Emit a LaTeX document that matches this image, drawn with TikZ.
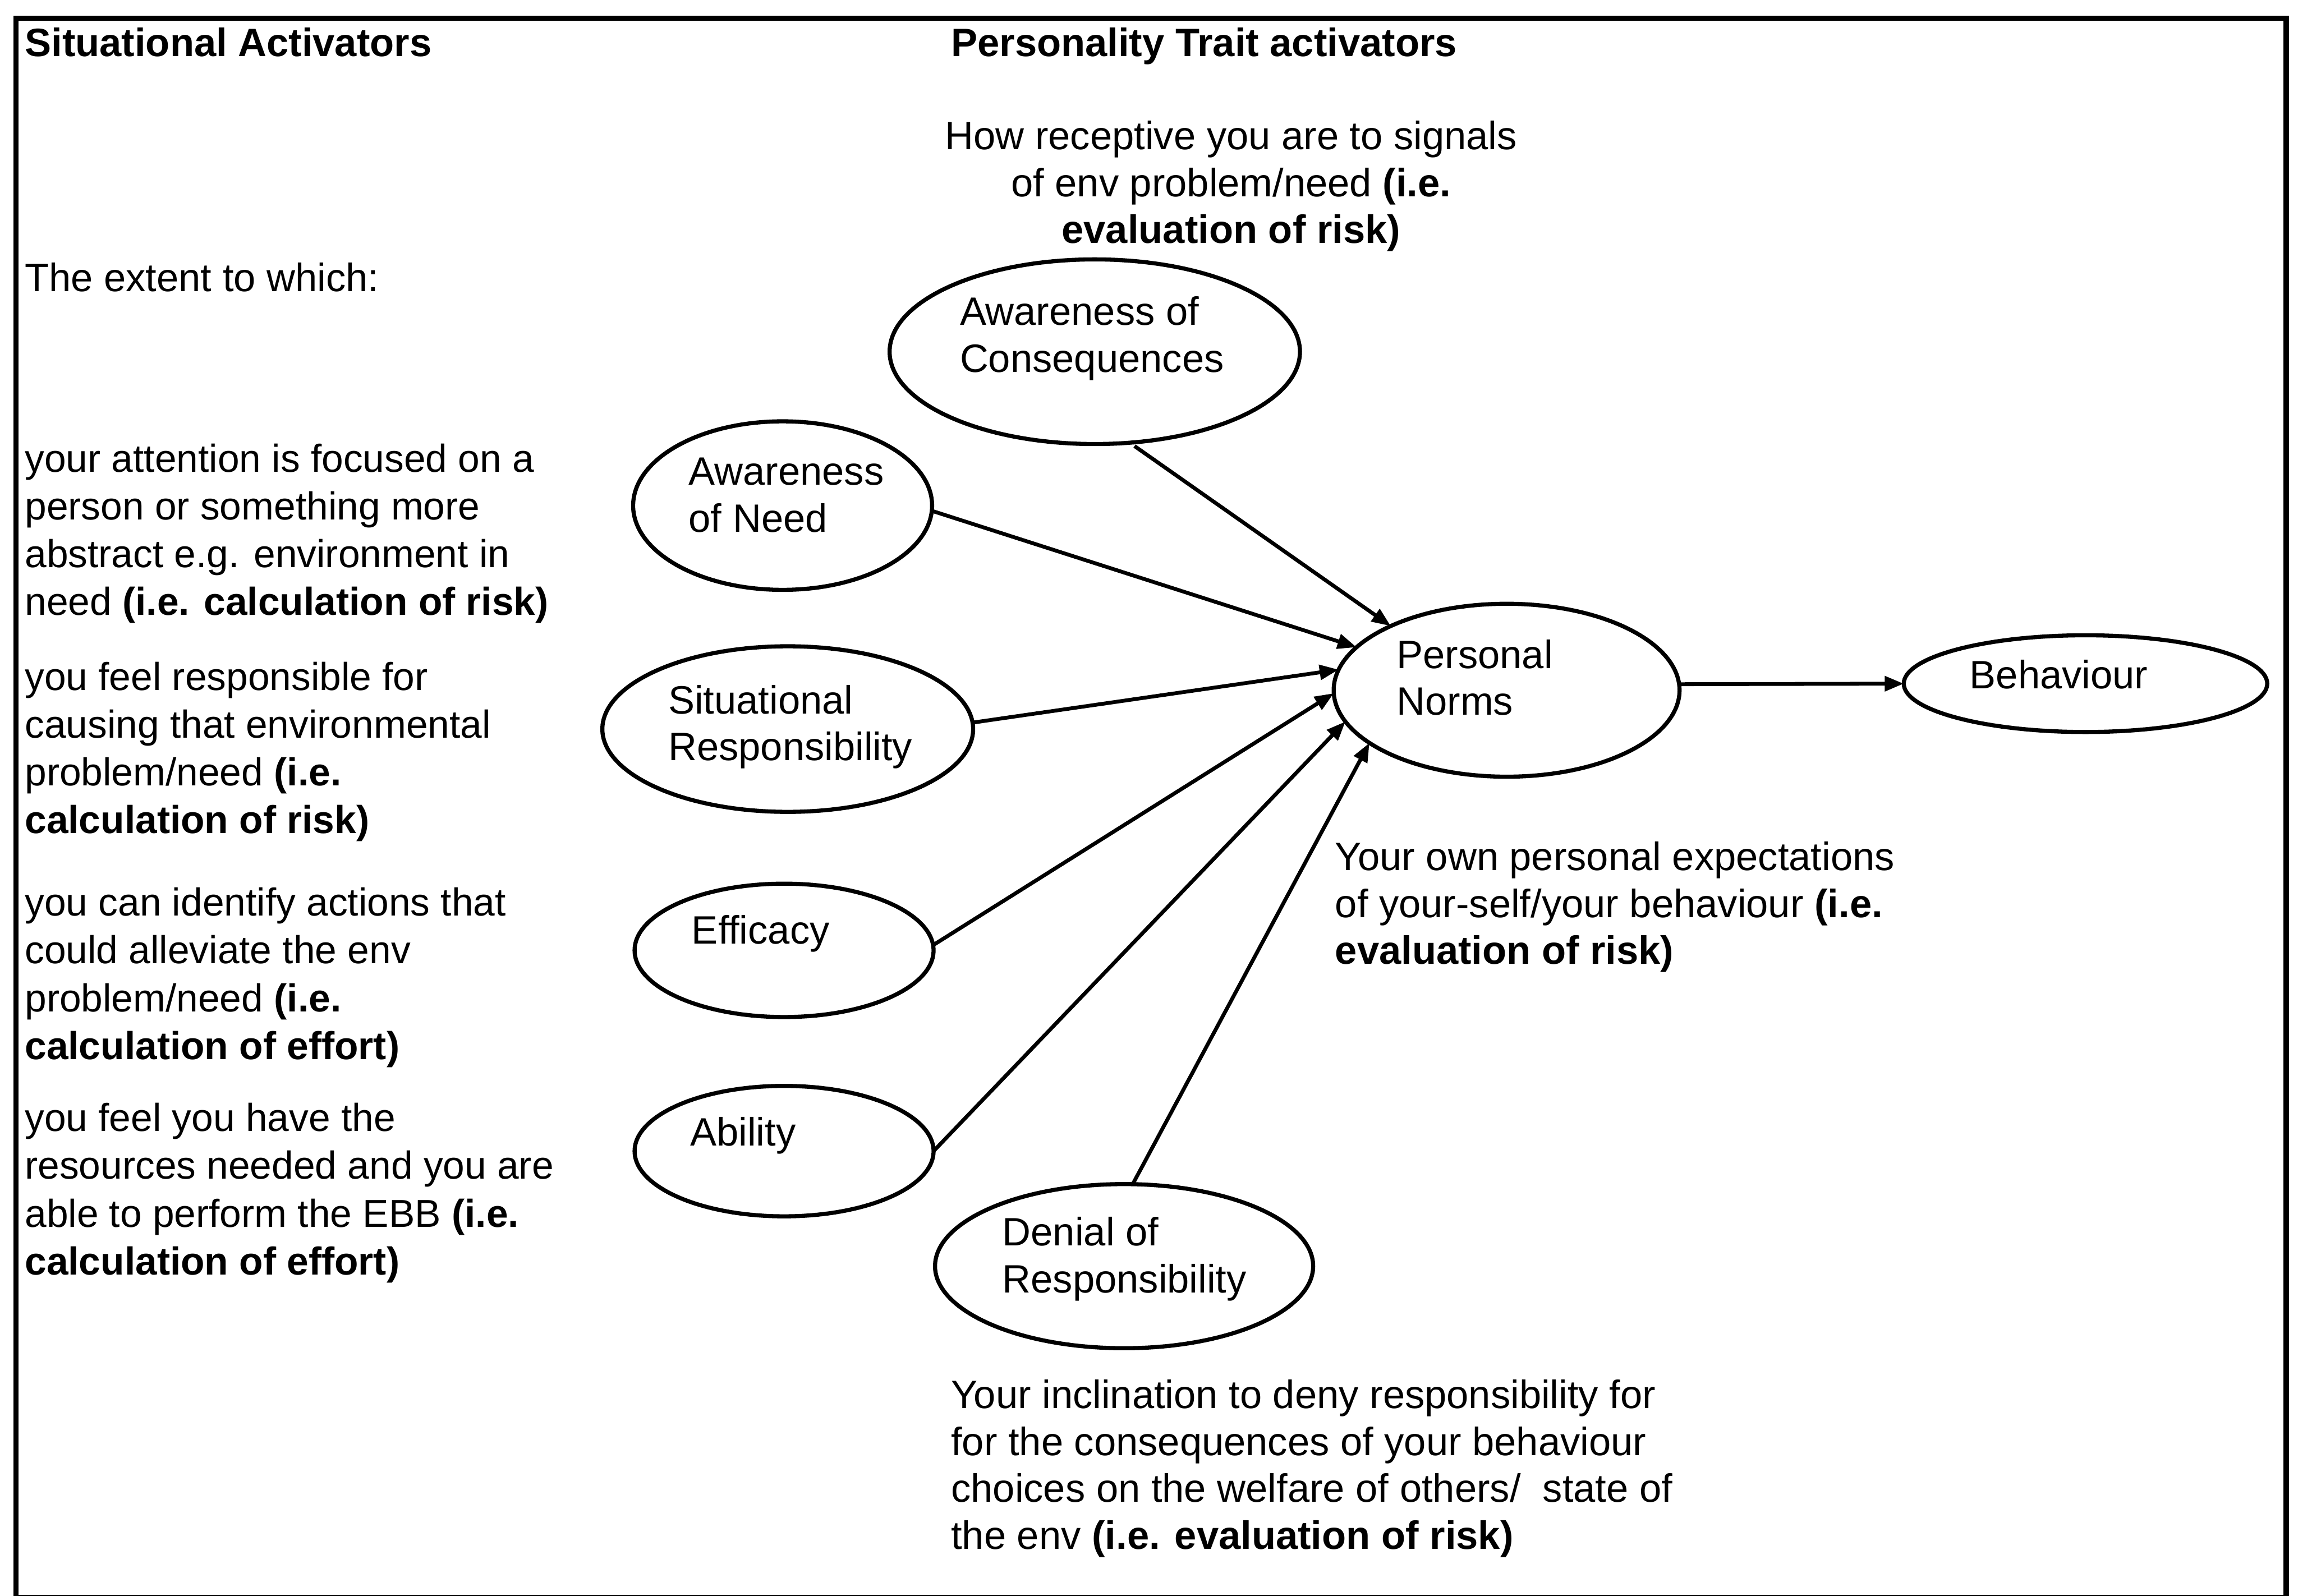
\documentclass[tikz,border=0pt]{standalone}
\usepackage{fontspec}
\setmainfont{Liberation Sans}
\usetikzlibrary{shapes.geometric,arrows.meta}
\begin{document}
\begin{tikzpicture}[x=0.5pt,y=-0.5pt,
  every node/.style={inner sep=0pt, outer sep=0pt},
  % text blocks: placed at the baseline of their first line
  txt/.style={font=\fontsize{13.5}{16}\selectfont, align=left, anchor=north west, yshift=11.2pt},
  col/.style={font=\fontsize{13.3}{16.3}\selectfont, align=left, anchor=north west, yshift=11.41pt},
  oval/.style={draw, ellipse, line width=1.4pt},
  link/.style={line width=1.3pt, -{Triangle[length=6.5pt,width=5pt]}}
]
\useasboundingbox (0,0) rectangle (1568,1089);

% outer frame (its lower edge runs along the bottom of the page)
\draw[line width=1.8pt] (11,12.5) rectangle (1560,1090);

% column headings
\node[txt] (hsit) at (17,38.5) {\strut\textbf{Situational Activators}};
\node[txt] (hper) at (649,38.5) {\strut\textbf{Personality Trait activators}};

% left column
\node[txt] (extent) at (17,199) {\strut The extent to which:};
\node[col] (p1) at (17,322) {\strut your attention is focused on a\\
  person or something more\\
  abstract e.g. environment in\\
  need \textbf{(i.e. calculation of risk)}};
\node[col] (p2) at (17,471) {\strut you feel responsible for\\
  causing that environmental\\
  problem/need \textbf{(i.e.}\\
  \textbf{calculation of risk)}};
\node[col] (p3) at (17,625) {\strut you can identify actions that\\
  could alleviate the env\\
  problem/need \textbf{(i.e.}\\
  \textbf{calculation of effort)}};
\node[col] (p4) at (17,772) {\strut you feel you have the\\
  resources needed and you are\\
  able to perform the EBB \textbf{(i.e.}\\
  \textbf{calculation of effort)}};

% explanatory texts
\node[txt, align=center, anchor=north] (recept) at (840,102) {\strut How receptive you are to signals\\
  of env problem/need \textbf{(i.e.}\\
  \textbf{evaluation of risk)}};
\node[txt] (own) at (911,594) {\strut Your own personal expectations\\
  of your-self/your behaviour \textbf{(i.e.}\\
  \textbf{evaluation of risk)}};
\node[txt] (incl) at (649,961) {\strut Your inclination to deny responsibility for\\
  for the consequences of your behaviour\\
  choices on the welfare of others/\ \ state of\\
  the env \textbf{(i.e. evaluation of risk)}};

% ellipses
\node[oval, minimum width=140pt, minimum height=63pt] (aoc) at (747,240) {};
\node[oval, minimum width=102pt, minimum height=57.5pt] (aon) at (534,345) {};
\node[oval, minimum width=126.5pt, minimum height=56.5pt] (sr) at (537.5,497.5) {};
\node[oval, minimum width=102pt, minimum height=45.5pt] (eff) at (535,648.5) {};
\node[oval, minimum width=102pt, minimum height=44.5pt] (abi) at (535,785.5) {};
\node[oval, minimum width=129pt, minimum height=56pt] (den) at (767,864) {};
\node[oval, minimum width=118pt, minimum height=59pt] (pn) at (1028,471) {};
\node[oval, minimum width=124pt, minimum height=33pt] (beh) at (1423,466.5) {};

% ellipse labels
\node[txt] (aocl) at (655,222) {\strut Awareness of\\Consequences};
\node[txt] (aonl) at (470,331) {\strut Awareness\\of Need};
\node[txt] (srl) at (456,487) {\strut Situational\\Responsibility};
\node[txt] (effl) at (472,644) {\strut Efficacy};
\node[txt] (abil) at (471,782) {\strut Ability};
\node[txt] (denl) at (684,850) {\strut Denial of\\Responsibility};
\node[txt] (pnl) at (953,456) {\strut Personal\\Norms};
\node[txt] (behl) at (1344,470) {\strut Behaviour};

% connectors
\draw[link, shorten <=2pt] (aoc.-69) -- (pn.151.5);
\draw[link] (aon.-2) -- (pn.164.3);
\draw[link] (sr.2.3) -- (pn.173.8);
\draw[link] (eff.2.5) -- (pn.181);
\draw[link] (abi.-0.8) -- (pn.191.9);
\draw[link] (den.84.2) -- (pn.201.6);
\draw[link] (pn.2.9) -- (beh.180);
\end{tikzpicture}
\end{document}
